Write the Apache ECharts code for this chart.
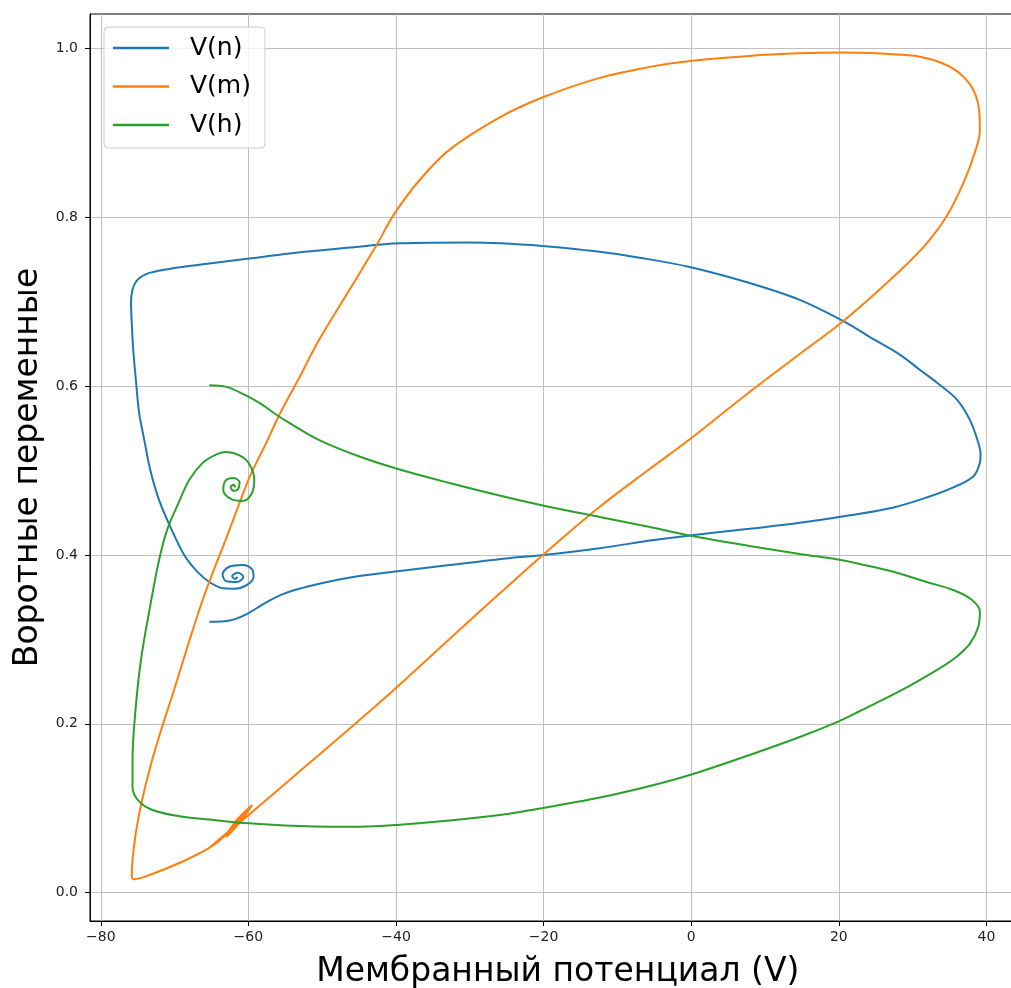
<!DOCTYPE html>
<html>
<head>
<meta charset="utf-8">
<script src="https://cdn.jsdelivr.net/npm/echarts@6/dist/echarts.min.js"></script>
<style>
html, body { margin: 0; padding: 0; background: #fff; }
#chart { width: 1011px; height: 988px; }
</style>
</head>
<body>
<div id="chart"></div>
<script>
// tick labels
const xTicks = [-80, -60, -40, -20, 0, 20, 40];
const yTicks = [0, 0.2, 0.4, 0.6, 0.8, 1.0];
const seriesNames = ['V(n)', 'V(m)', 'V(h)'];

// [V, n]
const vn = [
  [-65.3, 0.321], [-63.25, 0.3215], [-61.8, 0.324], [-60.3, 0.3295], [-58.7, 0.338],
  [-57.15, 0.346], [-55.5, 0.353], [-53.5, 0.359], [-50.4, 0.366], [-44.95, 0.375],
  [-39.5, 0.381], [-32.75, 0.388],
  [-26.0, 0.395], [-20.1, 0.400], [-12.4, 0.408], [-5.6, 0.417], [-0.2, 0.423],
  [7.9, 0.431], [14.7, 0.438], [21.5, 0.447], [27.3, 0.456], [31.9, 0.468],
  [35.5, 0.480], [38.2, 0.493], [39.1, 0.509], [39.2, 0.519], [38.85, 0.534],
  [37.75, 0.560], [36.0, 0.584], [33.3, 0.604], [31.0, 0.619], [28.3, 0.637],
  [24.2, 0.658], [20.8, 0.676], [14.7, 0.702], [7.9, 0.722], [-0.2, 0.741],
  [-7.0, 0.752], [-12.4, 0.759], [-20.1, 0.766], [-30.0, 0.770], [-39.5, 0.769],
  [-46.3, 0.764], [-54.4, 0.757], [-59.9, 0.751], [-65.3, 0.745], [-69.8, 0.740],
  [-73.4, 0.734], [-75.0, 0.726], [-75.7, 0.714], [-75.9, 0.698], [-75.8, 0.674],
  [-75.6, 0.643], [-75.2, 0.603], [-74.8, 0.568], [-74.1, 0.536], [-73.3, 0.501],
  [-72.1, 0.465], [-70.4, 0.430], [-68.7, 0.400], [-66.9, 0.380], [-65.3, 0.368],
  [-63.7, 0.361], [-61.9, 0.360], [-60.3, 0.364], [-59.3, 0.374], [-59.5, 0.383],
  [-60.8, 0.388], [-62.6, 0.386], [-63.5, 0.377], [-63.0, 0.369], [-61.5, 0.368],
  [-60.7, 0.374], [-61.4, 0.379], [-62.2, 0.375], [-61.8, 0.3715], [-61.5, 0.374]
];

// [V, m]
const vm = [
  [-65.3, 0.053], [-63.7, 0.065], [-61.2, 0.083], [-58.5, 0.103], [-55.8, 0.123],
  [-53.1, 0.1435], [-49.0, 0.174], [-44.95, 0.2045], [-40.3, 0.240], [-32.75, 0.3005],
  [-26.0, 0.354], [-20.1, 0.400], [-12.4, 0.457], [-5.6, 0.502], [-0.2, 0.537],
  [7.9, 0.593], [14.7, 0.638], [19.9, 0.672], [24.2, 0.704], [28.7, 0.740],
  [31.9, 0.769], [34.6, 0.801], [36.85, 0.840], [38.4, 0.876], [39.1, 0.903],
  [39.0, 0.927], [38.2, 0.951], [36.4, 0.970], [34.1, 0.982], [31.0, 0.990],
  [27.4, 0.993], [22.85, 0.9948], [19.9, 0.995], [14.7, 0.994], [7.9, 0.991],
  [-0.2, 0.985], [-5.6, 0.978], [-12.4, 0.965], [-20.1, 0.942], [-26.0, 0.918],
  [-32.75, 0.880], [-36.8, 0.844], [-40.3, 0.803], [-42.5, 0.769], [-46.3, 0.714],
  [-50.4, 0.655], [-53.1, 0.610], [-55.8, 0.566], [-57.4, 0.536], [-59.8, 0.493],
  [-61.4, 0.457], [-63.1, 0.4175], [-64.7, 0.382], [-66.2, 0.3466], [-68.1, 0.2957],
  [-70.2, 0.2365], [-71.7, 0.196], [-73.3, 0.149], [-74.5, 0.106], [-75.25, 0.071],
  [-75.7, 0.039], [-75.8, 0.019], [-75.5, 0.016], [-73.4, 0.021], [-68.9, 0.037],
  [-65.3, 0.053], [-63.25, 0.067], [-61.5, 0.087], [-59.5, 0.104], [-61.1, 0.084],
  [-63.0, 0.066], [-61.9, 0.079], [-60.1, 0.098], [-61.5, 0.083], [-62.7, 0.071],
  [-61.8, 0.081], [-60.7, 0.092], [-61.8, 0.079], [-62.2, 0.0755], [-61.2, 0.086],
  [-61.8, 0.080]
];

// [V, h]
const vh = [
  [-65.3, 0.601], [-63.0, 0.599], [-60.8, 0.591], [-58.5, 0.580], [-56.2, 0.566],
  [-54.4, 0.556], [-50.4, 0.536], [-44.95, 0.5166], [-39.5, 0.5012], [-32.75, 0.4852],
  [-26.0, 0.4704], [-20.1, 0.4586], [-12.4, 0.4449], [-5.6, 0.4331], [-0.2, 0.423],
  [7.9, 0.4106], [14.7, 0.4011], [19.9, 0.3946], [22.85, 0.3893], [27.4, 0.380],
  [31.9, 0.368], [35.5, 0.3585], [38.0, 0.347], [39.1, 0.333], [38.9, 0.315],
  [37.75, 0.295], [35.95, 0.2795], [33.7, 0.266], [28.3, 0.2389], [22.85, 0.2152],
  [19.9, 0.2027], [14.7, 0.1844], [7.9, 0.1631], [-0.2, 0.1394], [-5.6, 0.1264],
  [-12.4, 0.1127], [-20.1, 0.1003], [-26.0, 0.092], [-32.75, 0.0855], [-39.5, 0.0806],
  [-44.95, 0.0782], [-49.0, 0.0781], [-53.1, 0.0789], [-59.9, 0.0822], [-65.3, 0.0867],
  [-68.9, 0.090], [-73.0, 0.098], [-75.0, 0.110], [-75.7, 0.1255], [-75.7, 0.157],
  [-75.3, 0.216], [-74.55, 0.276], [-73.4, 0.335], [-72.1, 0.394], [-71.0, 0.430],
  [-69.6, 0.459], [-68.0, 0.489], [-66.2, 0.509], [-64.6, 0.518], [-63.1, 0.522],
  [-61.2, 0.518], [-59.9, 0.508], [-59.2, 0.489], [-59.6, 0.472], [-60.8, 0.464],
  [-62.3, 0.466], [-63.4, 0.477], [-63.1, 0.488], [-62.0, 0.491], [-61.2, 0.486],
  [-61.4, 0.478], [-62.0, 0.476], [-62.4, 0.4805], [-62.0, 0.483], [-61.8, 0.480]
];

const chart = echarts.init(document.getElementById('chart'));
const font = 'DejaVu Sans';
const minus = v => String(v).replace('-', '\u2212');

chart.setOption({
  animation: false,
  color: ['#1f77b4', '#ff7f0e', '#2ca02c'],
  grid: {
    left: 90, top: 14, width: 935.6, height: 907,
    show: true, borderColor: '#000', borderWidth: 1,
    containLabel: false, outerBoundsMode: 'none'
  },
  legend: {
    data: seriesNames,
    orient: 'vertical',
    left: 104, top: 27,
    icon: 'rect', itemWidth: 56, itemHeight: 2.5, itemGap: 10.5,
    padding: [7, 14, 9, 9],
    backgroundColor: 'rgba(255,255,255,0.8)',
    borderColor: '#cccccc', borderWidth: 1, borderRadius: 4,
    textStyle: { fontFamily: font, fontSize: 25, color: '#000', lineHeight: 28, padding: [0, 0, 0, 16] }
  },
  xAxis: {
    type: 'value', min: -81.46, max: 45.3,
    axisLine: { show: true, onZero: false, lineStyle: { color: '#000', width: 1 } },
    axisTick: { show: true, length: 5, customValues: xTicks, lineStyle: { color: '#000' } },
    axisLabel: { customValues: xTicks, formatter: v => minus(v), fontFamily: font, fontSize: 14, color: '#222', margin: 9 },
    splitLine: { show: true, lineStyle: { color: '#c0c0c0', width: 1 } },
    name: 'Мембранный потенциал (V)', nameLocation: 'middle', nameGap: 35,
    nameTextStyle: { fontFamily: font, fontSize: 33, color: '#000' }
  },
  yAxis: {
    type: 'value', min: -0.0335, max: 1.0406,
    axisLine: { show: true, onZero: false, lineStyle: { color: '#000', width: 1 } },
    axisTick: { show: true, length: 5, customValues: yTicks, lineStyle: { color: '#000' } },
    axisLabel: { customValues: yTicks, formatter: v => v.toFixed(1), fontFamily: font, fontSize: 14, color: '#222', margin: 12 },
    splitLine: { show: true, lineStyle: { color: '#c0c0c0', width: 1 } },
    name: 'Воротные переменные', nameLocation: 'middle', nameGap: 37, nameRotate: 90,
    nameTextStyle: { fontFamily: font, fontSize: 33, color: '#000' }
  },
  series: [vn, vm, vh].map((d, i) => ({
    name: seriesNames[i],
    type: 'line',
    data: d,
    symbol: 'none',
    showSymbol: false,
    smooth: 0.35,
    lineStyle: { width: 2 }
  }))
});
</script>
</body>
</html>
